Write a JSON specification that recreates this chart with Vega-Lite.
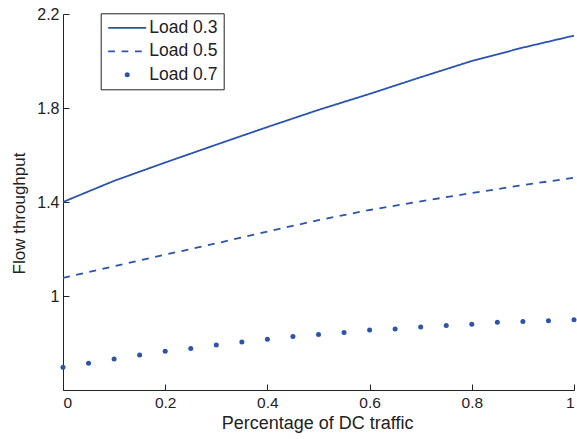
{
  "$schema": "https://vega.github.io/schema/vega-lite/v6.json",
  "width": 511,
  "height": 376,
  "autosize": {"type": "none"},
  "padding": {"left": 63, "top": 14, "right": 3, "bottom": 49},
  "background": "white",
  "config": {
    "view": {"stroke": null},
    "font": "Liberation Sans",
    "axis": {
      "domainColor": "#222222",
      "domainWidth": 1,
      "tickColor": "#222222",
      "tickSize": -6,
      "grid": false,
      "labelFont": "Liberation Sans",
      "labelFontSize": 16,
      "labelColor": "#222222",
      "titleFont": "Liberation Sans",
      "titleFontWeight": "normal",
      "titleColor": "#222222"
    }
  },
  "data": {
    "values": [
      {"x": 0.0, "y": 1.400, "series": "Load 0.3"},
      {"x": 0.1, "y": 1.490, "series": "Load 0.3"},
      {"x": 0.2, "y": 1.568, "series": "Load 0.3"},
      {"x": 0.3, "y": 1.644, "series": "Load 0.3"},
      {"x": 0.4, "y": 1.719, "series": "Load 0.3"},
      {"x": 0.5, "y": 1.792, "series": "Load 0.3"},
      {"x": 0.6, "y": 1.860, "series": "Load 0.3"},
      {"x": 0.7, "y": 1.931, "series": "Load 0.3"},
      {"x": 0.8, "y": 2.000, "series": "Load 0.3"},
      {"x": 0.9, "y": 2.057, "series": "Load 0.3"},
      {"x": 1.0, "y": 2.108, "series": "Load 0.3"},
      {"x": 0.0, "y": 1.077, "series": "Load 0.5"},
      {"x": 0.1, "y": 1.127, "series": "Load 0.5"},
      {"x": 0.2, "y": 1.176, "series": "Load 0.5"},
      {"x": 0.3, "y": 1.224, "series": "Load 0.5"},
      {"x": 0.4, "y": 1.274, "series": "Load 0.5"},
      {"x": 0.5, "y": 1.323, "series": "Load 0.5"},
      {"x": 0.6, "y": 1.366, "series": "Load 0.5"},
      {"x": 0.7, "y": 1.403, "series": "Load 0.5"},
      {"x": 0.8, "y": 1.438, "series": "Load 0.5"},
      {"x": 0.9, "y": 1.472, "series": "Load 0.5"},
      {"x": 1.0, "y": 1.503, "series": "Load 0.5"},
      {"x": 0.00, "y": 0.697, "series": "Load 0.7"},
      {"x": 0.05, "y": 0.714, "series": "Load 0.7"},
      {"x": 0.10, "y": 0.732, "series": "Load 0.7"},
      {"x": 0.15, "y": 0.749, "series": "Load 0.7"},
      {"x": 0.20, "y": 0.765, "series": "Load 0.7"},
      {"x": 0.25, "y": 0.777, "series": "Load 0.7"},
      {"x": 0.30, "y": 0.791, "series": "Load 0.7"},
      {"x": 0.35, "y": 0.804, "series": "Load 0.7"},
      {"x": 0.40, "y": 0.816, "series": "Load 0.7"},
      {"x": 0.45, "y": 0.828, "series": "Load 0.7"},
      {"x": 0.50, "y": 0.836, "series": "Load 0.7"},
      {"x": 0.55, "y": 0.845, "series": "Load 0.7"},
      {"x": 0.60, "y": 0.855, "series": "Load 0.7"},
      {"x": 0.65, "y": 0.860, "series": "Load 0.7"},
      {"x": 0.70, "y": 0.868, "series": "Load 0.7"},
      {"x": 0.75, "y": 0.875, "series": "Load 0.7"},
      {"x": 0.80, "y": 0.880, "series": "Load 0.7"},
      {"x": 0.85, "y": 0.888, "series": "Load 0.7"},
      {"x": 0.90, "y": 0.891, "series": "Load 0.7"},
      {"x": 0.95, "y": 0.895, "series": "Load 0.7"},
      {"x": 1.00, "y": 0.899, "series": "Load 0.7"}
    ]
  },
  "encoding": {
    "x": {
      "field": "x", "type": "quantitative",
      "scale": {"domain": [0, 1], "nice": false, "zero": false},
      "axis": {"values": [0, 0.2, 0.4, 0.6, 0.8, 1], "format": "~g", "labelPadding": 11, "labelFontSize": 15.5, "title": "Percentage of DC traffic", "titleFontSize": 18, "titleX": 254, "titleY": 24, "titleBaseline": "top"}
    },
    "y": {
      "field": "y", "type": "quantitative",
      "scale": {"domain": [0.6, 2.2], "nice": false, "zero": false},
      "axis": {"values": [1, 1.4, 1.8, 2.2], "format": "~g", "labelPadding": 10, "title": "Flow throughput", "titleFontSize": 17, "titlePadding": 8, "titleY": 199}
    },
    "color": {
      "field": "series", "type": "nominal",
      "scale": {"domain": ["Load 0.3", "Load 0.5", "Load 0.7"], "range": ["#2c54a8", "#2c54a8", "#2c54a8"]},
      "legend": {
        "title": null,
        "orient": "none",
        "legendX": 37.7,
        "legendY": -0.7,
        "columns": 1,
        "strokeColor": "#222222",
        "fillColor": "white",
        "padding": 6,
        "rowPadding": 5.5,
        "labelFont": "Liberation Sans",
        "labelFontSize": 17.5,
        "labelColor": "#222222",
        "symbolType": "stroke",
        "symbolSize": 1444,
        "symbolStrokeWidth": 1.8,
        "encode": {
          "symbols": {
            "update": {
              "x": {"value": 20.5},
              "y": {"value": 8.5},
              "shape": {"signal": "datum.value === 'Load 0.7' ? 'circle' : 'stroke'"},
              "size": {"signal": "datum.value === 'Load 0.7' ? 25 : 1444"},
              "strokeDash": {"signal": "datum.value === 'Load 0.5' ? [6.7, 6.7] : [1, 0]"},
              "fill": {"signal": "datum.value === 'Load 0.7' ? '#2c54a8' : 'transparent'"},
              "stroke": {"value": "#2c54a8"},
              "strokeWidth": {"signal": "datum.value === 'Load 0.7' ? 0 : 1.8"},
              "opacity": {"value": 1}
            }
          },
          "labels": {
            "update": {
              "x": {"value": 42.6},
              "y": {"value": 8.5},
              "baseline": {"value": "middle"},
              "opacity": {"value": 1}
            }
          }
        }
      }
    }
  },
  "layer": [
    {
      "transform": [{"filter": "datum.series !== 'Load 0.7'"}],
      "mark": {"type": "line", "strokeWidth": 1.8},
      "encoding": {
        "strokeDash": {
          "field": "series", "type": "nominal",
          "scale": {"domain": ["Load 0.3", "Load 0.5"], "range": [[1, 0], [7, 6.5]]},
          "legend": null
        }
      }
    },
    {
      "transform": [{"filter": "datum.series === 'Load 0.7'"}],
      "mark": {"type": "point", "filled": true, "size": 25, "opacity": 1, "shape": "circle"}
    }
  ]
}
